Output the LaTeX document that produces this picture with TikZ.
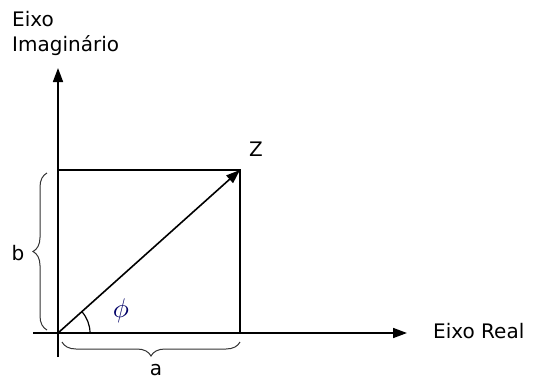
\documentclass[tikz,border=0pt]{standalone}
\usepackage{fontspec}
\setmainfont{DejaVu Sans}
\usetikzlibrary{arrows.meta,decorations.pathreplacing}
\begin{document}
\begin{tikzpicture}[x=1pt,y=-1pt,
  axis/.style={line width=1.6pt,-{Triangle[length=14pt,width=10pt]}},
  thin line/.style={line width=1.5pt},
  bracestyle/.style={line width=1pt,color=black!80,decorate,decoration={brace,amplitude=14pt}},
  lbl/.style={font=\fontsize{20}{24}\selectfont,text=black,inner sep=0pt}]
\useasboundingbox (0,0) rectangle (533,380);
\coordinate (O) at (58,333);
\coordinate (yb) at (58,357);
\coordinate (yt) at (58,68);
\coordinate (xl) at (33,333);
\coordinate (xr) at (407,333);
\coordinate (Z) at (240,170);
\coordinate (TL) at (58,170);
\coordinate (BR) at (240,333);
\draw[axis] (yb) -- (yt);
\draw[axis] (xl) -- (xr);
\draw[thin line] (TL) -- (Z) -- (BR);
\draw[axis] (O) -- (Z);
\draw[line width=1.2pt] (90,333) arc[start angle=0,end angle=-42,radius=32];
\draw[bracestyle] (47,330) -- (47,173);
\draw[bracestyle] (240,342) -- (62,342);
\node[lbl,anchor=base west] (eixo) at (12,27) {Eixo};
\node[lbl,anchor=base west] (imag) at (12,51) {Imaginário};
\node[lbl,anchor=base west] (real) at (433,338) {Eixo Real};
\node[lbl,anchor=base] (zl) at (256,156) {Z};
\node[lbl,anchor=base] (bl) at (18,260) {b};
\node[lbl,anchor=base] (al) at (156,375) {a};
\node[inner sep=0pt,text=blue!40!black] (phi) at (121,311) {\scalebox{2.7}{$\phi$}};
\end{tikzpicture}
\end{document}
